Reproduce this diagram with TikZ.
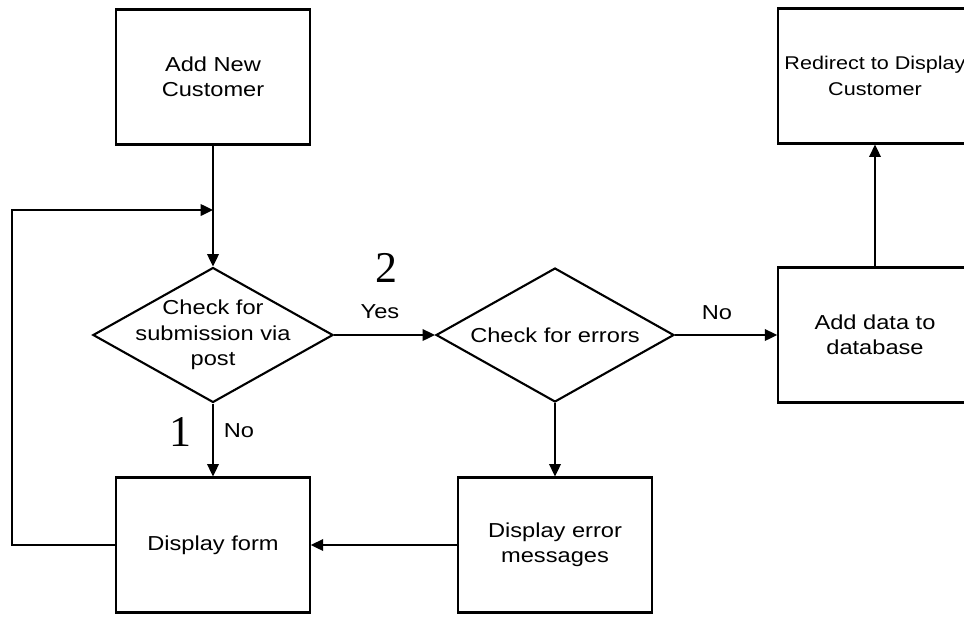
\documentclass[tikz,border=0pt]{standalone}
\usepackage{fontspec}
\setmainfont{Liberation Sans}[FakeStretch=1.17]
\newfontfamily\numfont{Liberation Serif}
\usetikzlibrary{shapes.geometric, arrows.meta}

\begin{document}
\begin{tikzpicture}[x=0.02cm, y=-0.02cm, line width=1.2pt,
        font=\fontsize{11.5}{14.5}\selectfont,
        box/.style={rectangle, draw, minimum width=3.87cm, minimum height=2.7cm, align=center},
        dec/.style={diamond, draw, aspect=1.78, minimum width=4.76cm, minimum height=2.68cm, inner sep=-4pt, align=center},
        arr/.style={-{Triangle[length=7pt, width=6.5pt]}},
        num/.style={font=\numfont\fontsize{25}{25}\selectfont}]
    \clip (0,0) rectangle (964,616);
    % process boxes and decisions
    \node[box] (start) at (213,77) {Add New\\Customer};
    \node[dec] (d1) at (213,335) {Check for\\submission via\\post};
    \node[dec] (d2) at (555,335) {Check for errors};
    \node[box] (add) at (875,335) {Add data to\\database};
    \node[box, font=\fontsize{10.5}{14.5}\selectfont] (redir) at (875,76) {Redirect to Display\\Customer};
    \node[box] (form) at (213,545) {Display form};
    \node[box] (err) at (555,545) {Display error\\messages};
    % labels
    \node (yes) at (380,312) {Yes};
    \node[num] (two) at (386,268) {2};
    \node (nor) at (717,313) {No};
    \node (nol) at (239,431) {No};
    \node[num] (one) at (180,432) {1};
    % connectors
    \coordinate (join) at (213,210);
    \coordinate (corner) at (12,210);
    \draw[arr] (start) -- (d1);
    \draw[arr] (form.west) -| (corner) -- (join);
    \draw[arr] (d1.east) -- (d2.west);
    \draw[arr] (d2.east) -- (add.west);
    \draw[arr] (add) -- (redir);
    \draw[arr] (d2) -- (err);
    \draw[arr] (err) -- (form);
    \draw[arr] (d1) -- (form);
\end{tikzpicture}
\end{document}
